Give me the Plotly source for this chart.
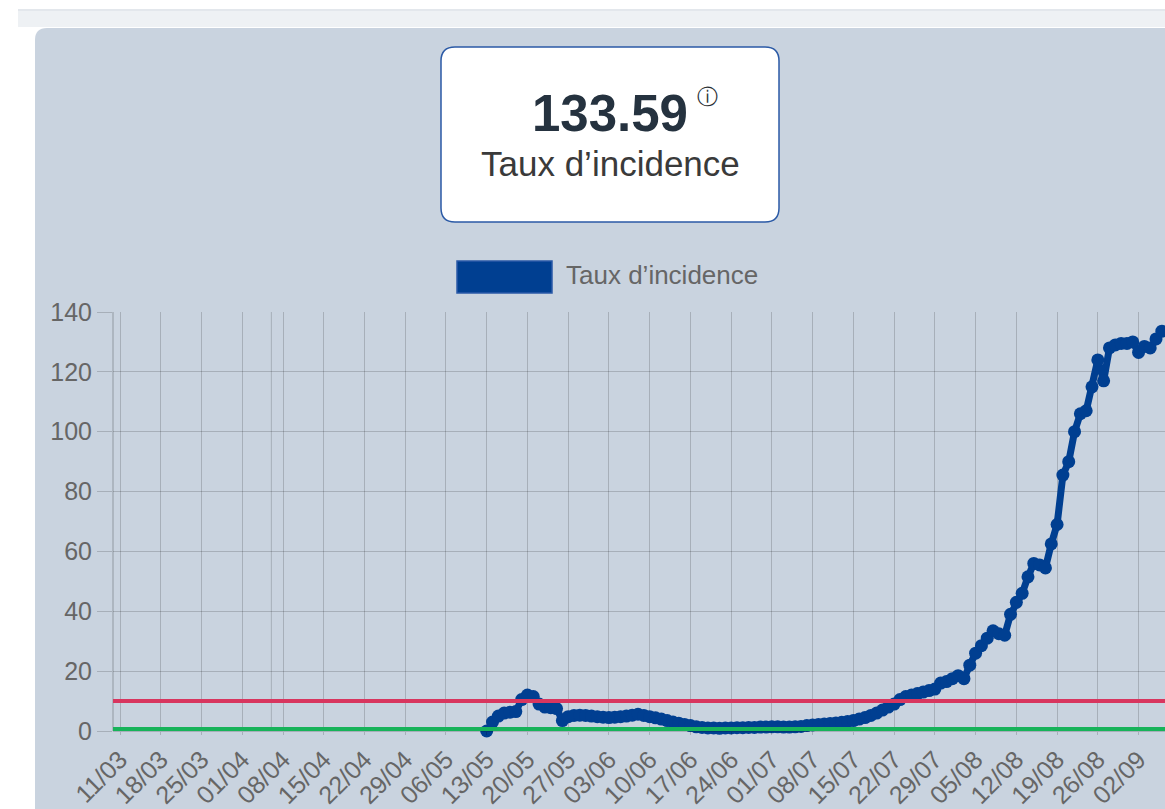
import pandas as pd
import plotly.graph_objects as go

# ---------------- data ----------------
start_date = "2020-05-13"
incidence = [
    0.0, 3.0, 5.0, 6.0, 6.3, 6.5, 10.5, 12.0, 11.5, 9.0,
    8.0, 7.8, 7.5, 3.5, 4.8, 5.2, 5.3, 5.2, 5.0, 4.8,
    4.6, 4.5, 4.6, 4.8, 5.0, 5.3, 5.6, 5.2, 4.8, 4.4,
    4.0, 3.5, 3.0, 2.6, 2.2, 1.8, 1.4, 1.2, 1.0, 1.0,
    0.9, 1.0, 1.0, 1.1, 1.1, 1.2, 1.2, 1.3, 1.3, 1.4,
    1.4, 1.3, 1.3, 1.4, 1.5, 1.8, 2.0, 2.2, 2.3, 2.5,
    2.7, 2.9, 3.2, 3.5, 4.0, 4.5, 5.2, 6.0, 7.0, 8.0,
    9.0, 10.5, 11.5, 12.0, 12.5, 13.0, 13.5, 14.0, 16.0, 16.5,
    17.5, 18.5, 17.5, 22.0, 26.0, 28.5, 31.0, 33.5, 32.5, 32.0,
    39.0, 43.0, 46.0, 51.5, 56.0, 55.5, 54.5, 62.5, 69.0, 85.5,
    90.0, 100.0, 106.0, 107.0, 115.0, 124.0, 117.0, 128.0, 129.0, 129.5,
    129.5, 130.0, 126.5, 128.5, 128.0, 131.0, 133.59,
]
dates = pd.date_range(start_date, periods=len(incidence), freq="D")

threshold_red = 10
threshold_green = 0.7
x_range = ["2020-03-09 19:00", "2020-09-06 13:00"]
tick_start = "2020-03-11"
extra_grid_date = "2020-04-06"

kpi_value = "133.59"
kpi_label = "Taux d’incidence"
series_name = "Taux d’incidence"

# ---------------- layout helpers (screen pixel -> paper) ----------------
W, H = 1165, 809
L, R, T, B = 113, 1165, 312, 731


def px(x):
    return (x - L) / (R - L)


def py(y):
    return (B - y) / (B - T)


def rounded_path(x0, y0, x1, y1, r, corners=(True, True, True, True)):
    tl, tr, br, bl = corners
    pts = []
    if tl:
        pts.append(f"M{px(x0)},{py(y0 + r)} Q{px(x0)},{py(y0)} {px(x0 + r)},{py(y0)}")
    else:
        pts.append(f"M{px(x0)},{py(y0)}")
    if tr:
        pts.append(f"L{px(x1 - r)},{py(y0)} Q{px(x1)},{py(y0)} {px(x1)},{py(y0 + r)}")
    else:
        pts.append(f"L{px(x1)},{py(y0)}")
    if br:
        pts.append(f"L{px(x1)},{py(y1 - r)} Q{px(x1)},{py(y1)} {px(x1 - r)},{py(y1)}")
    else:
        pts.append(f"L{px(x1)},{py(y1)}")
    if bl:
        pts.append(f"L{px(x0 + r)},{py(y1)} Q{px(x0)},{py(y1)} {px(x0)},{py(y1 - r)}")
    else:
        pts.append(f"L{px(x0)},{py(y1)}")
    pts.append("Z")
    return " ".join(pts)


FONT = "Liberation Sans, Arial, sans-serif"
BLUE = "#003f91"
RED = "#d8365f"
GREEN = "#17b35a"
GRID = "rgba(0,0,0,0.17)"
PANEL = "#c9d3df"

fig = go.Figure()

fig.add_trace(go.Scatter(
    x=dates, y=incidence, mode="lines+markers", name=series_name,
    line=dict(color=BLUE, width=7),
    marker=dict(color=BLUE, size=13),
    cliponaxis=False, showlegend=False,
))
fig.add_trace(go.Scatter(
    x=x_range, y=[threshold_red, threshold_red], mode="lines",
    line=dict(color=RED, width=4), showlegend=False, hoverinfo="skip",
))
fig.add_trace(go.Scatter(
    x=x_range, y=[threshold_green, threshold_green], mode="lines",
    line=dict(color=GREEN, width=4), showlegend=False, hoverinfo="skip",
))

shapes = [
    # top light bar
    dict(type="rect", xref="paper", yref="paper", layer="below",
         x0=px(18), x1=px(1200), y0=py(27), y1=py(9),
         fillcolor="#eef1f4", line=dict(width=0)),
    dict(type="line", xref="paper", yref="paper", layer="below",
         x0=px(18), x1=px(1200), y0=py(10), y1=py(10),
         line=dict(color="#e3e7ec", width=2)),
    # panel
    dict(type="path", xref="paper", yref="paper", layer="below",
         path=rounded_path(35, 28, 1230, 860, 12, (True, False, False, False)),
         fillcolor=PANEL, line=dict(width=0)),
    # KPI box
    dict(type="path", xref="paper", yref="paper", layer="above",
         path=rounded_path(441, 47, 779, 222, 14),
         fillcolor="white", line=dict(color="#2b5aa6", width=1.5)),
    # legend swatch
    dict(type="rect", xref="paper", yref="paper", layer="above",
         x0=px(457), x1=px(552), y0=py(293), y1=py(261),
         fillcolor=BLUE, line=dict(color="#2a5aa8", width=1.5)),
    # y axis border
    dict(type="line", xref="paper", yref="paper", layer="below",
         x0=0, x1=0, y0=0, y1=1, line=dict(color="rgba(0,0,0,0.28)", width=1)),
    # extra vertical grid line
    dict(type="line", xref="x", yref="paper", layer="below",
         x0=extra_grid_date, x1=extra_grid_date, y0=0, y1=1,
         line=dict(color=GRID, width=1)),
]

annotations = [
    dict(text=f"<b>{kpi_value}</b>", xref="paper", yref="paper",
         x=px(610), y=py(114), xanchor="center", yanchor="middle",
         showarrow=False, font=dict(family=FONT, size=51, color="#25323f")),
    dict(text="ⓘ", xref="paper", yref="paper",
         x=px(707), y=py(97), xanchor="center", yanchor="middle",
         showarrow=False, font=dict(family="DejaVu Sans", size=21, color="#2a2f35")),
    dict(text=kpi_label, xref="paper", yref="paper",
         x=px(610), y=py(163), xanchor="center", yanchor="middle",
         showarrow=False, font=dict(family=FONT, size=35, color="#3a3a3a")),
    dict(text=series_name, xref="paper", yref="paper",
         x=px(564), y=py(275), xanchor="left", yanchor="middle",
         showarrow=False, font=dict(family=FONT, size=26, color="#666666")),
]

fig.update_layout(
    width=W, height=H,
    margin=dict(l=L, r=W - R, t=T, b=H - B, pad=0),
    paper_bgcolor="white",
    plot_bgcolor="rgba(0,0,0,0)",
    showlegend=False,
    shapes=shapes,
    annotations=annotations,
    font=dict(family=FONT, color="#666666", size=25),
)

fig.update_xaxes(
    type="date", range=x_range, autorange=False,
    tick0=tick_start, dtick=7 * 86400000, tickformat="%d/%m",
    tickangle=-45, tickfont=dict(family=FONT, size=25, color="#666666"),
    showgrid=True, gridcolor=GRID, gridwidth=1,
    ticks="outside", ticklen=3, tickcolor=GRID,
    showline=True, linecolor=GRID, zeroline=False, automargin=False,
)
fig.update_yaxes(
    range=[0, 140], autorange=False, dtick=20,
    tickfont=dict(family=FONT, size=25, color="#666666"),
    showgrid=True, gridcolor=GRID, gridwidth=1,
    ticks="outside", ticklen=15, tickcolor=GRID,
    zeroline=False, showline=False, automargin=False,
)

fig.write_html(
    "out.html",
    config={"displayModeBar": False},
    post_script="document.body.style.margin='0px';document.body.style.overflow='hidden';",
)
